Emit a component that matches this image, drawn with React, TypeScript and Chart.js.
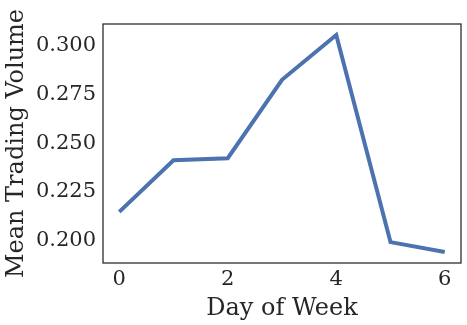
import React, { useEffect, useRef } from "react";
import { Chart, registerables } from "chart.js";

Chart.register(...registerables);

const days = [0, 1, 2, 3, 4, 5, 6];
const meanVolume = [0.2148, 0.2413, 0.2423, 0.2825, 0.3055, 0.1993, 0.1942];
const xTicks = [0, 2, 4, 6];
const yTicks = [0.2, 0.225, 0.25, 0.275, 0.3];

const TEXT = "#262626";
const FONT = "DejaVu Serif";

const framePlugin = {
  id: "frame",
  afterDraw(chart: any) {
    const { ctx, chartArea } = chart;
    ctx.save();
    ctx.strokeStyle = TEXT;
    ctx.lineWidth = 1.25;
    ctx.strokeRect(chartArea.left, chartArea.top, chartArea.right - chartArea.left, chartArea.bottom - chartArea.top);
    ctx.restore();
  },
};

export default function App() {
  const ref = useRef<HTMLCanvasElement>(null);
  useEffect(() => {
    document.body.style.margin = "0";
    const chart = new Chart(ref.current!, {
      type: "line",
      data: {
        datasets: [
          {
            data: days.map((d, i) => ({ x: d, y: meanVolume[i] })),
            borderColor: "#4c72b0",
            borderWidth: 4,
            pointRadius: 0,
            tension: 0,
            fill: false,
          },
        ],
      },
      options: {
        animation: false,
        responsive: false,
        layout: { padding: { top: 24, right: 6, left: 0, bottom: 0 } },
        plugins: { legend: { display: false }, tooltip: { enabled: false } },
        scales: {
          x: {
            type: "linear",
            min: -0.3,
            max: 6.3,
            grid: { display: false, drawTicks: false, tickLength: 0 },
            border: { display: false },
            afterBuildTicks: (s: any) => {
              s.ticks = xTicks.map((v) => ({ value: v }));
            },
            afterFit: (s: any) => {
              s.height = 62;
            },
            ticks: {
              color: TEXT,
              font: { family: FONT, size: 21 },
              padding: 4,
              maxRotation: 0,
              callback: (v: any) => String(v),
            },
            title: {
              display: true,
              text: "Day of Week",
              color: TEXT,
              font: { family: FONT, size: 24 },
              padding: { top: 0, bottom: 2 },
            },
          },
          y: {
            type: "linear",
            min: 0.1886,
            max: 0.3111,
            grid: { display: false, drawTicks: false, tickLength: 0 },
            border: { display: false },
            afterBuildTicks: (s: any) => {
              s.ticks = yTicks.map((v) => ({ value: v }));
            },
            afterFit: (s: any) => {
              s.width = 103;
            },
            ticks: {
              color: TEXT,
              font: { family: FONT, size: 21 },
              padding: 7,
              callback: (v: any) => Number(v).toFixed(3),
            },
            title: {
              display: true,
              text: "Mean Trading Volume",
              color: TEXT,
              font: { family: FONT, size: 24 },
              padding: { top: 2, bottom: 0 },
            },
          },
        },
      },
      plugins: [framePlugin],
    });
    return () => chart.destroy();
  }, []);
  return (
    <div style={{ position: "absolute", left: 0, top: 0, width: 467, height: 325 }}>
      <canvas ref={ref} width={467} height={325} />
    </div>
  );
}
